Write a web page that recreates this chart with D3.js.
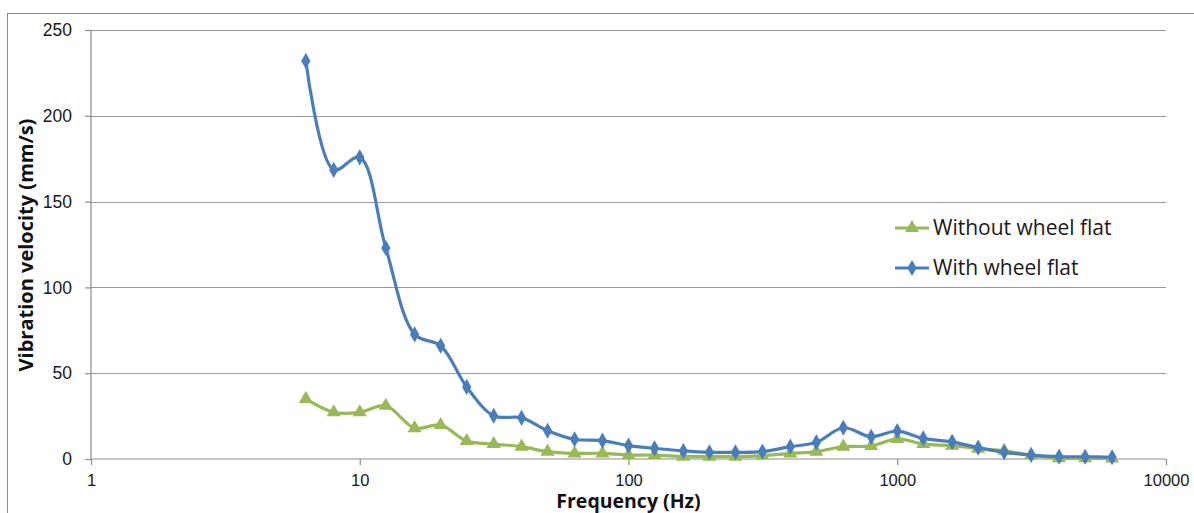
<!DOCTYPE html>
<html>
<head>
<meta charset="utf-8">
<script src="https://cdn.jsdelivr.net/npm/d3@7"></script>
<style>
  body { margin: 0; background: #fff; }
  svg { display: block; font-family: "Open Sans", "Noto Sans", sans-serif; }
</style>
</head>
<body>
<svg id="chart"></svg>
<script>
// one-third octave band centre frequencies (Hz)
const frequencies = [6.3, 8, 10, 12.5, 16, 20, 25, 31.5, 40, 50, 63, 80, 100, 125, 160, 200,
  250, 315, 400, 500, 630, 800, 1000, 1250, 1600, 2000, 2500, 3150, 4000, 5000, 6300]

// vibration velocity (mm/s)
const withoutFlat = [35, 27.2, 27.2, 31, 18, 19.8, 10.5, 8.7, 7.2, 4.3, 3.3, 3.3, 2.3, 2.3, 1.4, 1.4,
  1.4, 2, 3.3, 4.3, 7.2, 7.6, 11.7, 8.7, 7.8, 6, 4.8, 2.3, 0.4, 0.4, 0.3]
const withFlat = [232, 168.5, 175.8, 123, 72.6, 66, 42, 25.2, 24, 16.5, 11.5, 10.7, 7.8, 6.2, 4.7, 3.9,
  3.9, 4.3, 7.2, 9.7, 18.2, 13, 16.3, 12, 10, 6.6, 3.9, 2.3, 1.4, 1.3, 1.0]

const xTicks = [1, 10, 100, 1000, 10000]
const yTicks = [0, 50, 100, 150, 200, 250]

const seriesList = [
  { name: 'Without wheel flat', values: withoutFlat, color: '#98B954', symbol: d3.symbolTriangle, size: 85 },
  { name: 'With wheel flat', values: withFlat, color: '#4A7EBB', symbol: d3.symbolDiamond, size: 75 }
]

const width = 1194
const height = 513
const margin = { top: 30, right: 28, bottom: 54, left: 91 }
const innerW = width - margin.left - margin.right
const innerH = height - margin.top - margin.bottom

const svg = d3.select('#chart')
  .attr('width', width)
  .attr('height', height)

// outer chart border
svg.append('rect')
  .attr('x', 7.5).attr('y', 13.5)
  .attr('width', 1200).attr('height', 600)
  .attr('fill', 'none')
  .attr('stroke', '#8c8c8c')

const chart = svg.append('g')
  .attr('transform', `translate(${margin.left}, ${margin.top})`)

const xScale = d3.scaleLog()
  .domain([1, 10000])
  .range([0, innerW])

const yScale = d3.scaleLinear()
  .domain([0, 250])
  .range([innerH, 0])

// gridlines
chart.append('g')
  .selectAll('line')
  .data(yTicks.slice(1))
  .join('line')
    .attr('x1', 0).attr('x2', innerW)
    .attr('y1', d => Math.round(yScale(d)) + 0.5)
    .attr('y2', d => Math.round(yScale(d)) + 0.5)
    .attr('stroke', '#999')
    .attr('stroke-width', 1.2)

const xAxis = d3.axisBottom(xScale)
  .tickValues(xTicks)
  .tickFormat(d3.format('d'))
  .tickSize(6)
  .tickPadding(9)

const yAxis = d3.axisLeft(yScale)
  .tickValues(yTicks)
  .tickSize(6)
  .tickPadding(13)

const xAxisGroup = chart.append('g')
  .attr('transform', `translate(0, ${innerH})`)
  .call(xAxis)

const yAxisGroup = chart.append('g')
  .call(yAxis)

for (const g of [xAxisGroup, yAxisGroup]) {
  g.select('.domain').attr('stroke', '#8c8c8c').attr('stroke-width', 1.2)
  g.selectAll('.tick line').attr('stroke', '#8c8c8c').attr('stroke-width', 1.2)
  g.selectAll('.tick text')
    .attr('fill', '#1a1a1a')
    .style('font-size', '17.5px')
}
xAxisGroup.selectAll('.tick text').style('font-size', '16.5px')
// axisLeft/axisBottom draw outer ticks; keep only the axis line
xAxisGroup.select('.domain').attr('d', `M0,0H${innerW}`)
yAxisGroup.select('.domain').attr('d', `M0,0V${innerH}`)

// axis titles
svg.append('text')
  .attr('x', margin.left + xScale(100))
  .attr('y', 508)
  .attr('text-anchor', 'middle')
  .style('font-size', '19.5px')
  .style('font-weight', 'bold')
  .attr('fill', '#111')
  .text('Frequency (Hz)')

svg.append('text')
  .attr('transform', 'translate(33, 245) rotate(-90)')
  .attr('text-anchor', 'middle')
  .style('font-size', '20px')
  .style('font-weight', 'bold')
  .attr('fill', '#111')
  .text('Vibration velocity (mm/s)')

const line = d3.line()
  .x((d, i) => xScale(frequencies[i]))
  .y(d => yScale(d))
  .curve(d3.curveCatmullRom.alpha(0.5))

for (const s of seriesList) {
  const g = chart.append('g')
  g.append('path')
    .datum(s.values)
    .attr('d', line)
    .attr('fill', 'none')
    .attr('stroke', s.color)
    .attr('stroke-width', 3.2)
  g.selectAll('path.marker')
    .data(s.values)
    .join('path')
      .attr('class', 'marker')
      .attr('d', d3.symbol().type(s.symbol).size(s.size))
      .attr('transform', (d, i) => `translate(${xScale(frequencies[i])}, ${yScale(d)})`)
      .attr('fill', s.color)
}

// legend
const legend = svg.append('g')
  .attr('transform', 'translate(895, 228)')

legend.selectAll('g')
  .data(seriesList)
  .join('g')
    .attr('transform', (d, i) => `translate(0, ${i * 40})`)
    .each(function (s) {
      const g = d3.select(this)
      g.append('line')
        .attr('x1', 0).attr('x2', 34)
        .attr('stroke', s.color)
        .attr('stroke-width', 3)
      g.append('path')
        .attr('d', d3.symbol().type(s.symbol).size(s.size))
        .attr('transform', 'translate(17, 0)')
        .attr('fill', s.color)
      g.append('text')
        .attr('x', 38)
        .attr('dy', '0.35em')
        .style('font-size', '21px')
        .attr('fill', '#1a1a1a')
        .text(s.name)
    })
</script>
</body>
</html>
